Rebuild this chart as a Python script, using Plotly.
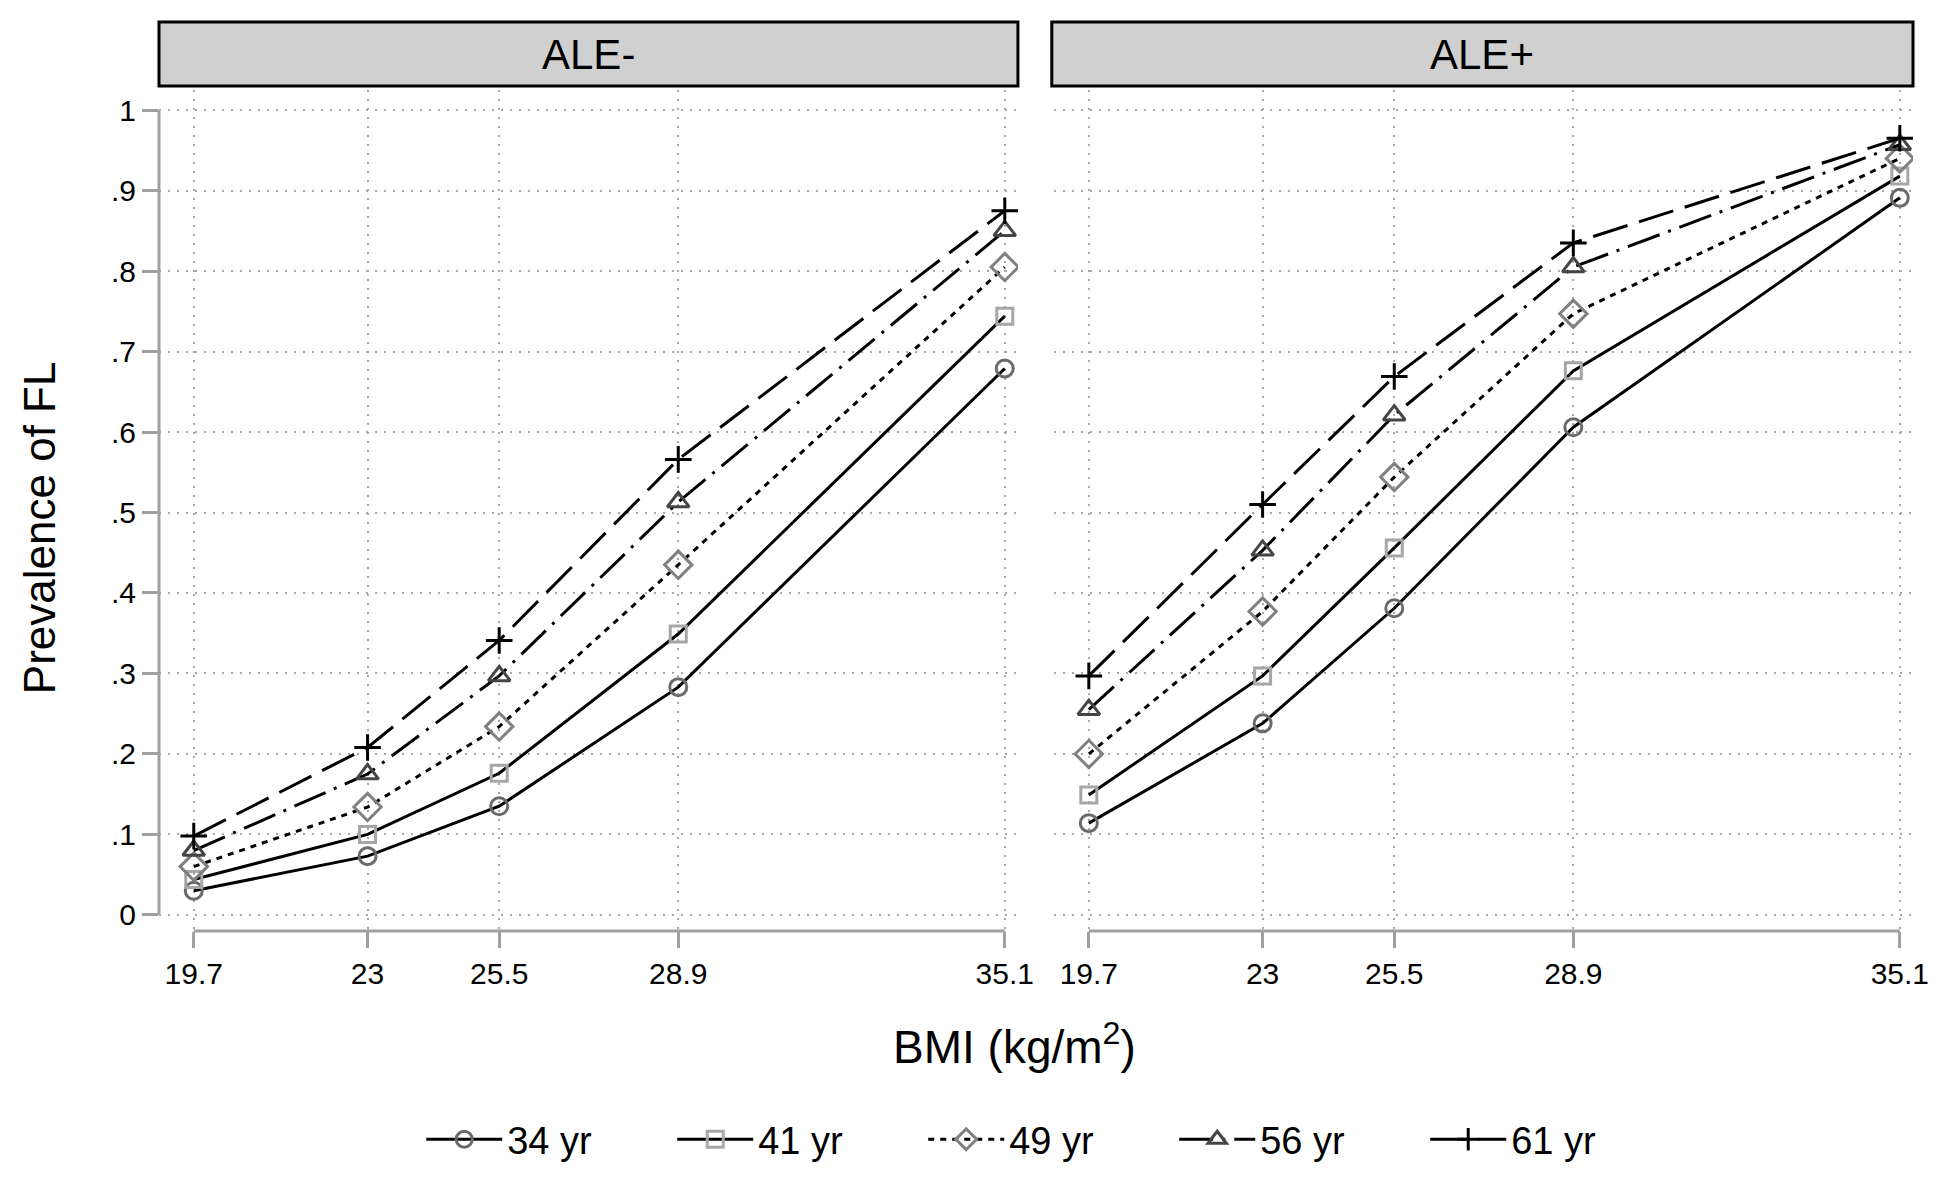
import plotly.graph_objects as go

# ---------------- data ----------------
bmi = [19.7, 23, 25.5, 28.9, 35.1]
x_ticktext = ["19.7", "23", "25.5", "28.9", "35.1"]
y_tickvals = [0, 0.1, 0.2, 0.3, 0.4, 0.5, 0.6, 0.7, 0.8, 0.9, 1]
y_ticktext = ["0", ".1", ".2", ".3", ".4", ".5", ".6", ".7", ".8", ".9", "1"]
panels = ["ALE-", "ALE+"]
ages = ["34 yr", "41 yr", "49 yr", "56 yr", "61 yr"]

ale_neg = {
    "34 yr": [0.030, 0.073, 0.135, 0.283, 0.679],
    "41 yr": [0.044, 0.100, 0.176, 0.349, 0.744],
    "49 yr": [0.060, 0.134, 0.234, 0.435, 0.805],
    "56 yr": [0.080, 0.175, 0.297, 0.513, 0.850],
    "61 yr": [0.098, 0.208, 0.341, 0.566, 0.875],
}
ale_pos = {
    "34 yr": [0.114, 0.238, 0.381, 0.606, 0.891],
    "41 yr": [0.149, 0.297, 0.456, 0.676, 0.918],
    "49 yr": [0.200, 0.377, 0.544, 0.747, 0.940],
    "56 yr": [0.255, 0.453, 0.621, 0.805, 0.957],
    "61 yr": [0.297, 0.510, 0.669, 0.835, 0.965],
}

# ---------------- styles ----------------
FONT = "Liberation Sans, Arial, Helvetica, sans-serif"
symbols = {"34 yr": "circle-open", "41 yr": "square-open", "49 yr": "diamond-open",
           "56 yr": "triangle-up-open", "61 yr": "cross-thin-open"}
mcolors = {"34 yr": "#6a6a6a", "41 yr": "#a6a6a6", "49 yr": "#808080",
           "56 yr": "#454545", "61 yr": "#000000"}
msizes = {"34 yr": 17, "41 yr": 16, "49 yr": 21, "56 yr": 19, "61 yr": 19}
dashes = {"34 yr": "solid", "41 yr": "solid", "49 yr": "6px,6px",
          "56 yr": "34px,9px,3px,9px", "61 yr": "36px,12px"}

fig = go.Figure()
for pi, data in enumerate([ale_neg, ale_pos]):
    xa = "x" if pi == 0 else "x2"
    ya = "y" if pi == 0 else "y2"
    for age in ages:
        fig.add_trace(go.Scatter(
            x=bmi, y=data[age], xaxis=xa, yaxis=ya,
            mode="lines+markers", name=age, legendgroup=age,
            showlegend=(pi == 0),
            line=dict(color="black", width=3, dash=dashes[age]),
            marker=dict(symbol=symbols[age], size=msizes[age], color=mcolors[age],
                        line=dict(color=mcolors[age], width=3)),
        ))

xr = [19.04, 35.35]
yr = [-0.02, 1.025]
grid = dict(showgrid=True, gridcolor="#a8a8a8", gridwidth=2, griddash="2px,7px",
            zeroline=False)
xcommon = dict(range=xr, tickvals=bmi, ticktext=x_ticktext, ticks="outside", ticklen=16,
               tickwidth=3, tickcolor="#a0a0a0", showline=False, ticklabelstandoff=0,
               tickfont=dict(family=FONT, size=30, color="black"), **grid)
fig.update_layout(
    width=1944, height=1169,
    margin=dict(l=151, r=39, t=82, b=246, autoexpand=False),
    paper_bgcolor="white", plot_bgcolor="white",
    showlegend=True,
    xaxis=dict(domain=[0, 0.4897], **xcommon),
    xaxis2=dict(domain=[0.5103, 1], anchor="y2", **xcommon),
    yaxis=dict(range=yr, tickvals=y_tickvals, ticktext=y_ticktext, ticks="outside",
               ticklen=16, tickwidth=3, tickcolor="#a0a0a0", showline=False,
               tickfont=dict(family=FONT, size=30, color="black"), **grid),
    yaxis2=dict(range=yr, tickvals=y_tickvals, showticklabels=False, ticks="",
                anchor="x2", showline=False, **grid),
    legend=dict(orientation="h", x=0.1495, y=-0.248, xanchor="left", yanchor="middle",
                font=dict(family=FONT, size=38, color="black"),
                entrywidth=160, entrywidthmode="pixels", itemwidth=76,
                bgcolor="rgba(0,0,0,0)"),
)

# axis lines spanning only the tick range
for xa, yd in [("x", "y domain"), ("x2", "y2 domain")]:
    fig.add_shape(type="line", xref=xa, yref=yd, x0=bmi[0], x1=bmi[-1], y0=0, y1=0,
                  line=dict(color="#a0a0a0", width=3), layer="above")
fig.add_shape(type="line", xref="x domain", yref="y", x0=0, x1=0,
              y0=y_tickvals[0], y1=y_tickvals[-1], line=dict(color="#a0a0a0", width=3))

# strip headers
strip_x = [(0, 0.4897), (0.509, 1.0)]
for (x0, x1), label in zip(strip_x, panels):
    fig.add_shape(type="rect", xref="paper", yref="paper", x0=x0, x1=x1,
                  y0=1.0048, y1=1.0809, fillcolor="#d0d0d0",
                  line=dict(color="black", width=3))
    fig.add_annotation(xref="paper", yref="paper", x=(x0 + x1) / 2, y=1.0428,
                       text=label, showarrow=False, xanchor="center", yanchor="middle",
                       font=dict(family=FONT, size=42, color="black"))

# axis titles
fig.add_annotation(xref="paper", yref="paper", x=0.488, y=-0.134,
                   text="BMI (kg/m<sup>2</sup>)", showarrow=False,
                   xanchor="center", yanchor="middle",
                   font=dict(family=FONT, size=46, color="black"))
fig.add_annotation(xref="paper", yref="paper", x=-0.0685, y=0.48,
                   text="Prevalence of FL", showarrow=False, textangle=-90,
                   xanchor="center", yanchor="middle",
                   font=dict(family=FONT, size=44, color="black"))

fig.write_html("out.html")
